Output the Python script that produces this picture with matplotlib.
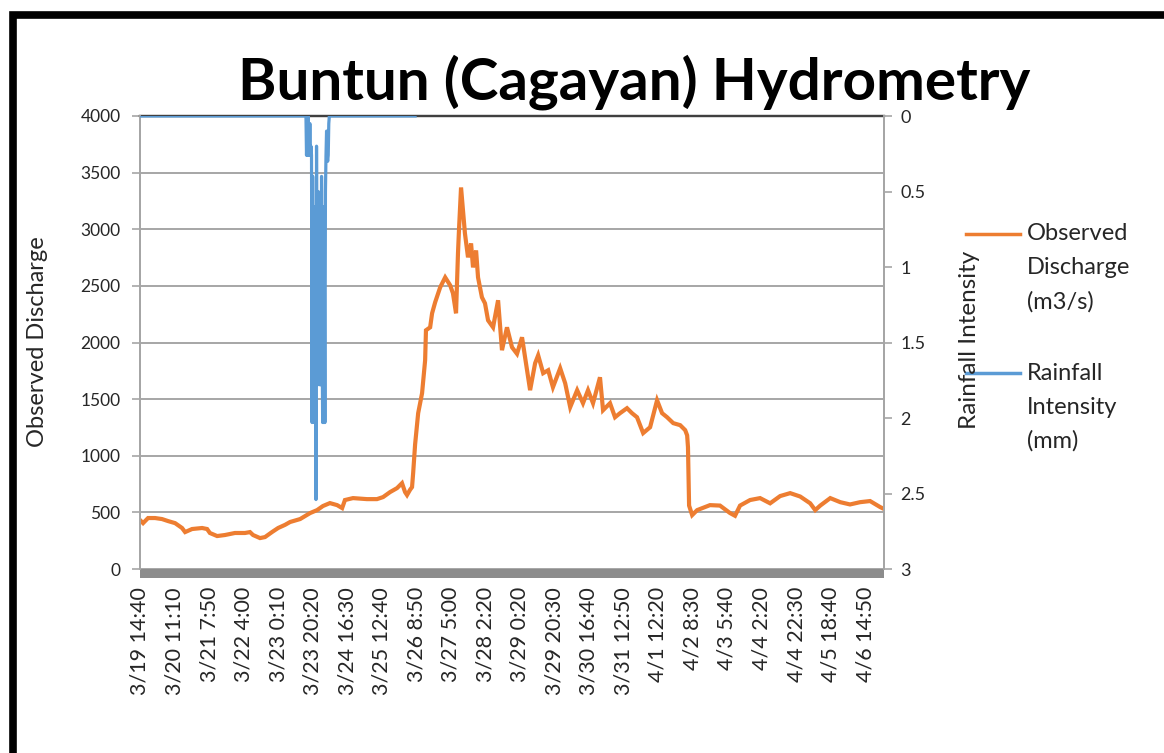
"""Buntun (Cagayan) hydrometry: observed discharge vs rainfall intensity."""
import matplotlib
matplotlib.use("Agg")
import matplotlib.pyplot as plt
from matplotlib.lines import Line2D
from matplotlib.patches import Rectangle
import numpy as np

plt.rcParams["font.family"] = ["Lato", "DejaVu Sans"]

# x axis is the reading number (10-minute records)
tick_labels = ["3/19 14:40", "3/20 11:10", "3/21 7:50", "3/22 4:00", "3/23 0:10",
               "3/23 20:20", "3/24 16:30", "3/25 12:40", "3/26 8:50", "3/27 5:00",
               "3/28 2:20", "3/29 0:20", "3/29 20:30", "3/30 16:40", "3/31 12:50",
               "4/1 12:20", "4/2 8:30", "4/3 5:40", "4/4 2:20", "4/4 22:30",
               "4/5 18:40", "4/6 14:50"]
LABEL_EVERY = 124
N_RECORDS = 2672

# observed discharge (m3/s)
q_idx = [0, 11, 29, 54, 79, 101, 126, 151, 162, 187, 223, 241, 251, 277, 305,
         341, 377, 395, 406, 431, 449, 474, 496, 521, 539, 575, 611, 636, 657,
         682, 708, 726, 736, 765, 815, 851, 873, 898, 923, 941, 952, 959, 970,
         977, 981, 988, 999, 1013, 1024, 1027, 1042, 1049, 1060, 1078, 1096,
         1114, 1124, 1135, 1142, 1146, 1153, 1160, 1167, 1178, 1189, 1196, 1207,
         1214, 1228, 1239, 1250, 1268, 1286, 1300, 1318, 1336, 1354, 1372, 1383,
         1401, 1419, 1430, 1448, 1466, 1483, 1509, 1527, 1545, 1570, 1591, 1609,
         1627, 1652, 1663, 1688, 1706, 1724, 1749, 1767, 1785, 1807, 1832, 1857,
         1875, 1893, 1915, 1940, 1958, 1965, 1968, 1972, 1983, 2001, 2022, 2047,
         2083, 2119, 2137, 2155, 2191, 2227, 2263, 2299, 2335, 2371, 2407, 2425,
         2443, 2479, 2515, 2550, 2586, 2622, 2658, 2672]
discharge = [432, 405, 450, 450, 441, 423, 405, 362, 326, 353, 362, 353, 318, 291,
             300, 318, 318, 326, 300, 273, 282, 326, 362, 390, 415, 441, 494, 520,
             556, 582, 564, 538, 609, 626, 617, 617, 635, 679, 714, 758, 679, 653,
             700, 723, 847, 1100, 1376, 1552, 1843, 2108, 2134, 2258, 2355, 2487,
             2575, 2505, 2434, 2258, 2787, 3016, 3369, 3166, 2963, 2752, 2875, 2663,
             2813, 2575, 2399, 2346, 2196, 2134, 2373, 1932, 2134, 1958, 1900, 2046,
             1870, 1579, 1817, 1887, 1729, 1755, 1605, 1773, 1640, 1429, 1579, 1464,
             1579, 1464, 1693, 1402, 1464, 1340, 1376, 1420, 1376, 1340, 1200, 1252,
             1490, 1376, 1340, 1288, 1270, 1226, 1180, 1076, 560, 476, 520, 540,
             564, 560, 494, 470, 560, 609, 626, 580, 644, 670, 640, 580, 520, 560,
             626, 590, 570, 590, 600, 547, 530]

# rainfall intensity (mm): zero outside the storm, data end at record 988
RAIN_START = 596
RAIN_STEP = 2
RAIN_END = 988
storm_rain = [0, 0.26, 0.1, 0.26, 0, 0.26, 0.26, 0.05, 0.26, 0.2, 0.26,
              2.03, 0.4, 1.7, 0.9, 2.03, 0.6, 1.4, 2.54, 0.2, 1.2, 1.78,
              0.5, 1.6, 0.77, 1.78, 1.1, 1.78, 0.4, 1.5, 2.03, 0.6, 2.03,
              1.0, 2.03, 0.5, 0.26, 0.1, 0.26, 0.3, 0.26, 0.05, 0]

ORANGE = "#ED7D31"
BLUE = "#5B9BD5"
GRID = "#a6a6a6"
TXT = "#262626"

W, H = 1164, 753
fig = plt.figure(figsize=(W / 100, H / 100), dpi=100)
ax = fig.add_axes([140 / W, 1 - 569 / H, 744 / W, 453 / H])
ax2 = ax.twinx()

ax.plot(q_idx, discharge, color=ORANGE, lw=3.0, solid_joinstyle="miter", zorder=3)
rain_x = [0] + list(RAIN_START + RAIN_STEP * np.arange(len(storm_rain))) + [RAIN_END]
rain_y = [0] + storm_rain + [0]
ax2.plot(rain_x, rain_y, color=BLUE, lw=2.3, zorder=3)

ax.set_xlim(0, N_RECORDS)
ax.set_ylim(0, 4000)
ax.set_yticks(np.arange(0, 4001, 500))
ax2.set_ylim(3, 0)
ax2.set_yticks([0, 0.5, 1, 1.5, 2, 2.5, 3])
ax2.set_yticklabels(["0", "0.5", "1", "1.5", "2", "2.5", "3"])

ax.set_xticks(np.arange(len(tick_labels)) * LABEL_EVERY)
ax.set_xticklabels(tick_labels, rotation=90, fontsize=15.5, color=TXT)
ax.tick_params(axis="x", length=0, pad=13)
ax.tick_params(axis="y", direction="out", length=6, width=1.2, color=GRID,
               labelsize=12.5, labelcolor=TXT, pad=8)
ax2.tick_params(axis="y", direction="out", length=6, width=1.2, color=GRID,
                labelsize=13, labelcolor=TXT, pad=6)

ax.grid(True, axis="y", color=GRID, lw=1.4)
ax.set_axisbelow(True)
for a in (ax, ax2):
    a.spines["left"].set_color(GRID)
    a.spines["right"].set_color(GRID)
    a.spines["left"].set_linewidth(1.4)
    a.spines["right"].set_linewidth(1.4)
    a.spines["bottom"].set_visible(False)
    a.spines["top"].set_color("#404040")
    a.spines["top"].set_linewidth(1.6)
ax2.spines["top"].set_zorder(1)

# dense category tick marks form a solid band under the plot
ax.add_patch(Rectangle((0, -9 / 453), 1, 9 / 453, transform=ax.transAxes,
                       facecolor="#8c8c8c", edgecolor="none", clip_on=False))

fig.text(634 / W, 1 - 99 / H, "Buntun (Cagayan) Hydrometry", ha="center",
         va="baseline", fontsize=42, fontweight="bold", color="black")
fig.text(38 / W, 1 - 342 / H, "Observed Discharge", rotation=90, ha="center",
         va="center", fontsize=17, color=TXT)
fig.text(970 / W, 1 - 340 / H, "Rainfall Intensity", rotation=90, ha="center",
         va="center", fontsize=17.5, color=TXT)

# legend
for y0, col, lines in [(234, ORANGE, ["Observed", "Discharge", "(m3/s)"]),
                       (373, BLUE, ["Rainfall", "Intensity", "(mm)"])]:
    fig.add_artist(Line2D([966 / W, 1020 / W], [1 - y0 / H, 1 - y0 / H],
                          color=col, lw=2.5))
    for k, s in enumerate(lines):
        fig.text(1027 / W, 1 - (y0 + 34 * k) / H, s, ha="left", va="center",
                 fontsize=17, color=TXT)

# outer black frame (runs off the right and bottom edges)
fig.add_artist(Rectangle((13 / W, -0.1), 1.2, 1 - 15 / H + 0.1,
                         transform=fig.transFigure, facecolor="none",
                         edgecolor="black", lw=5.5))

fig.savefig("out.png", dpi=100)
